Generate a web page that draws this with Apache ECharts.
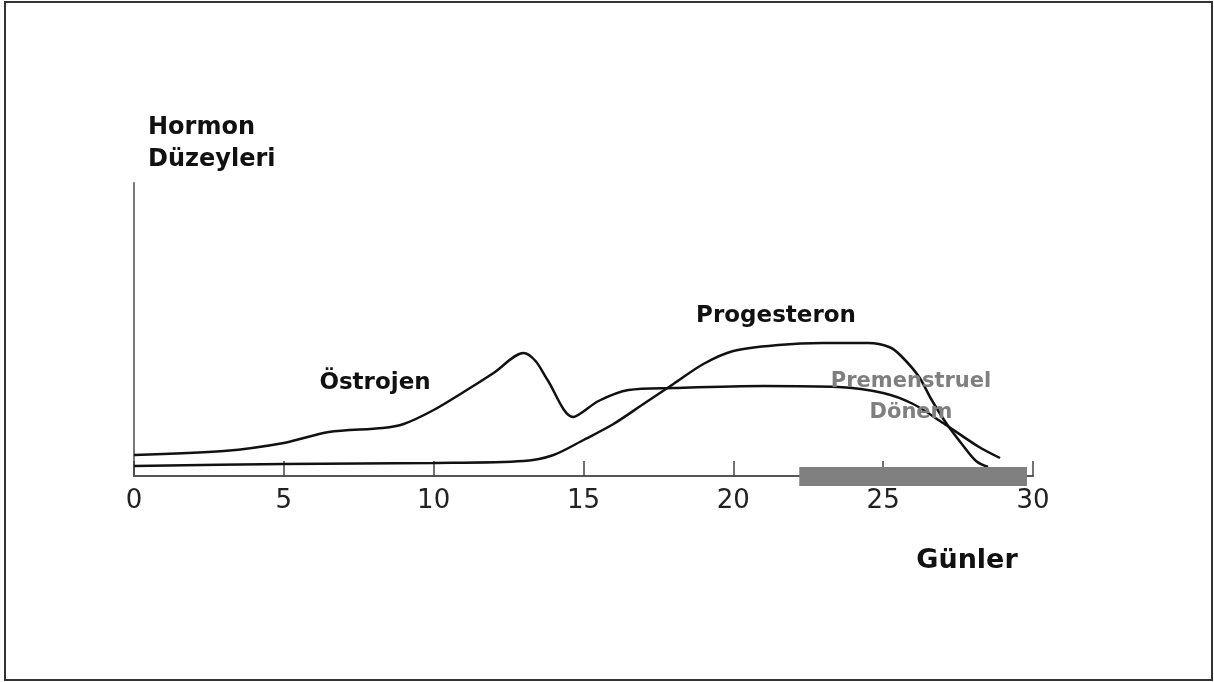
<!DOCTYPE html>
<html>
<head>
<meta charset="utf-8">
<script src="https://cdn.jsdelivr.net/npm/echarts@6/dist/echarts.min.js"></script>
<style>
html,body{margin:0;padding:0;background:#fff;}
#chart{width:1214px;height:682px;}
</style>
</head>
<body>
<div id="chart"></div>
<script>
// Days (x) and hormone level (arbitrary units, 0 = axis)
const estrogenDays = [0, 3, 5, 6.5, 8.3, 9, 10, 11, 12, 13, 13.4, 13.8, 14.65, 15.5, 16.5, 18, 21, 23.5, 25, 26, 27, 28.2, 28.9];
const estrogenLevels = [21, 25, 33, 44, 48, 52, 66, 84, 103, 123, 115, 96, 59, 75, 86, 88, 90, 89, 83, 72, 53, 29, 18];

const progesteronDays = [0, 5, 10, 13, 14, 15, 16, 17, 18, 19, 20, 21.5, 23, 24.5, 25.2, 25.6, 26.2, 26.6, 27.1, 27.6, 28.1, 28.5];
const progesteronLevels = [10, 12, 13, 15, 21, 36, 52, 72, 92, 112, 125, 131, 133, 133, 129, 120, 99, 77, 53, 33, 15, 9];

const premenstrualRange = [22.2, 29.8];
const xTicks = [0, 5, 10, 15, 20, 25, 30];

const labels = {
  yTitle: ['Hormon', 'Düzeyleri'],
  xTitle: 'Günler',
  estrogen: 'Östrojen',
  progesteron: 'Progesteron',
  premenstrual: ['Premenstruel', 'Dönem']
};

const pair = (xs, ys) => xs.map((x, i) => [x, ys[i]]);

const chart = echarts.init(document.getElementById('chart'));
const font = '"DejaVu Sans", sans-serif';

chart.setOption({
  animation: false,
  backgroundColor: '#ffffff',
  grid: { left: 134, right: 181, top: 183, bottom: 206, containLabel: false },
  xAxis: {
    type: 'value', min: 0, max: 30, interval: 5,
    axisLine: { show: true, onZero: false, lineStyle: { color: '#555', width: 2 } },
    axisTick: { show: true, inside: true, length: 15, lineStyle: { color: '#444', width: 1.5 } },
    axisLabel: { show: true, margin: 12, fontSize: 26, color: '#222', fontFamily: font,
      formatter: v => xTicks.indexOf(v) >= 0 ? String(v) : '' },
    splitLine: { show: false }
  },
  yAxis: {
    type: 'value', min: 0, max: 293,
    axisLine: { show: true, lineStyle: { color: '#777', width: 2 } },
    axisTick: { show: false }, axisLabel: { show: false }, splitLine: { show: false }
  },
  series: [
    {
      type: 'line', name: labels.estrogen, data: pair(estrogenDays, estrogenLevels),
      smooth: 0.3, showSymbol: false,
      lineStyle: { color: '#111', width: 2.5 }, z: 3
    },
    {
      type: 'line', name: labels.progesteron, data: pair(progesteronDays, progesteronLevels),
      smooth: 0.3, showSymbol: false,
      lineStyle: { color: '#111', width: 2.5 }, z: 3
    },
    {
      type: 'custom', clip: false, z: 4,
      data: [premenstrualRange],
      renderItem: function (params, api) {
        const a = api.coord([api.value(0), 0]);
        const b = api.coord([api.value(1), 0]);
        return { type: 'rect', shape: { x: a[0], y: a[1] - 9, width: b[0] - a[0], height: 19 },
          style: { fill: '#808080' } };
      }
    }
  ],
  graphic: [
    { type: 'rect', shape: { x: 5, y: 2, width: 1207, height: 678 },
      style: { fill: 'none', stroke: '#333', lineWidth: 2 }, silent: true, z: 10 },
    { type: 'text', left: 148, top: 116, style: { text: labels.yTitle[0], font: 'bold 24px ' + font, fill: '#111' } },
    { type: 'text', left: 148, top: 148, style: { text: labels.yTitle[1], font: 'bold 24px ' + font, fill: '#111' } },
    { type: 'text', x: 375, y: 383, style: { text: labels.estrogen, font: 'bold 23px ' + font, fill: '#111', textAlign: 'center', textVerticalAlign: 'middle' } },
    { type: 'text', x: 776, y: 316, style: { text: labels.progesteron, font: 'bold 23px ' + font, fill: '#111', textAlign: 'center', textVerticalAlign: 'middle' } },
    { type: 'text', x: 911, y: 382, z: 5, style: { text: labels.premenstrual[0], font: 'bold 21px ' + font, fill: '#7f7f7f', textAlign: 'center', textVerticalAlign: 'middle' } },
    { type: 'text', x: 911, y: 413, z: 5, style: { text: labels.premenstrual[1], font: 'bold 21px ' + font, fill: '#7f7f7f', textAlign: 'center', textVerticalAlign: 'middle' } },
    { type: 'text', x: 967, y: 561, style: { text: labels.xTitle, font: 'bold 27px ' + font, fill: '#111', textAlign: 'center', textVerticalAlign: 'middle' } }
  ]
});
</script>
</body>
</html>
